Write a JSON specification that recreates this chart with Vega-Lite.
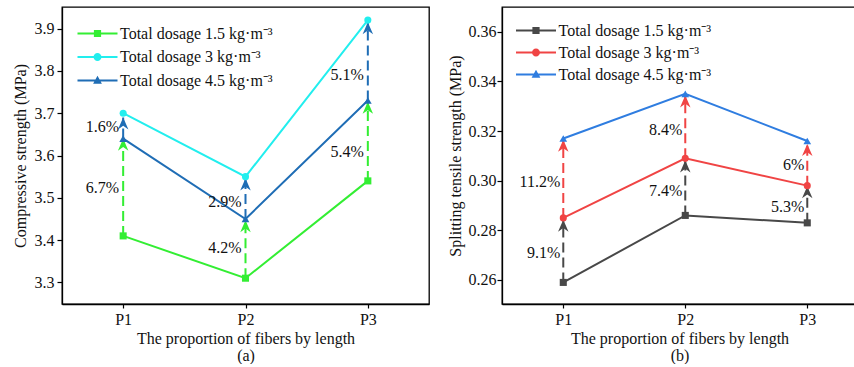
{
  "$schema": "https://vega.github.io/schema/vega-lite/v6.json",
  "padding": {"left": 11, "top": 6, "right": 0, "bottom": 0},
  "background": "white",
  "datasets": {
    "a_pts": [
      {"p": "P1", "s": "Total dosage 1.5 kg·m⁻³", "v": 3.41},
      {"p": "P2", "s": "Total dosage 1.5 kg·m⁻³", "v": 3.31},
      {"p": "P3", "s": "Total dosage 1.5 kg·m⁻³", "v": 3.54},
      {"p": "P1", "s": "Total dosage 3 kg·m⁻³", "v": 3.70},
      {"p": "P2", "s": "Total dosage 3 kg·m⁻³", "v": 3.55},
      {"p": "P3", "s": "Total dosage 3 kg·m⁻³", "v": 3.92},
      {"p": "P1", "s": "Total dosage 4.5 kg·m⁻³", "v": 3.64},
      {"p": "P2", "s": "Total dosage 4.5 kg·m⁻³", "v": 3.45},
      {"p": "P3", "s": "Total dosage 4.5 kg·m⁻³", "v": 3.73}
    ],
    "a_arr": [
      {"p": "P1", "s": "Total dosage 1.5 kg·m⁻³", "from": 3.41, "to": 3.64, "label": "6.7%", "ly": 3.523},
      {"p": "P1", "s": "Total dosage 4.5 kg·m⁻³", "from": 3.64, "to": 3.69, "label": "1.6%", "ly": 3.667},
      {"p": "P2", "s": "Total dosage 1.5 kg·m⁻³", "from": 3.31, "to": 3.447, "label": "4.2%", "ly": 3.381},
      {"p": "P2", "s": "Total dosage 4.5 kg·m⁻³", "from": 3.45, "to": 3.546, "label": "2.9%", "ly": 3.49},
      {"p": "P3", "s": "Total dosage 1.5 kg·m⁻³", "from": 3.54, "to": 3.727, "label": "5.4%", "ly": 3.608},
      {"p": "P3", "s": "Total dosage 4.5 kg·m⁻³", "from": 3.73, "to": 3.915, "label": "5.1%", "ly": 3.79}
    ],
    "b_pts": [
      {"p": "P1", "s": "Total dosage 1.5 kg·m⁻³", "v": 0.259},
      {"p": "P2", "s": "Total dosage 1.5 kg·m⁻³", "v": 0.286},
      {"p": "P3", "s": "Total dosage 1.5 kg·m⁻³", "v": 0.283},
      {"p": "P1", "s": "Total dosage 3 kg·m⁻³", "v": 0.285},
      {"p": "P2", "s": "Total dosage 3 kg·m⁻³", "v": 0.309},
      {"p": "P3", "s": "Total dosage 3 kg·m⁻³", "v": 0.298},
      {"p": "P1", "s": "Total dosage 4.5 kg·m⁻³", "v": 0.317},
      {"p": "P2", "s": "Total dosage 4.5 kg·m⁻³", "v": 0.335},
      {"p": "P3", "s": "Total dosage 4.5 kg·m⁻³", "v": 0.316}
    ],
    "b_arr": [
      {"p": "P1", "s": "Total dosage 1.5 kg·m⁻³", "from": 0.259, "to": 0.2843, "label": "9.1%", "ly": 0.2707},
      {"p": "P1", "s": "Total dosage 3 kg·m⁻³", "from": 0.285, "to": 0.3165, "label": "11.2%", "ly": 0.2995},
      {"p": "P2", "s": "Total dosage 1.5 kg·m⁻³", "from": 0.286, "to": 0.3082, "label": "7.4%", "ly": 0.296},
      {"p": "P2", "s": "Total dosage 3 kg·m⁻³", "from": 0.309, "to": 0.3344, "label": "8.4%", "ly": 0.3203},
      {"p": "P3", "s": "Total dosage 1.5 kg·m⁻³", "from": 0.283, "to": 0.2978, "label": "5.3%", "ly": 0.2893},
      {"p": "P3", "s": "Total dosage 3 kg·m⁻³", "from": 0.298, "to": 0.3148, "label": "6%", "ly": 0.3062}
    ]
  },
  "hconcat": [
    {
      "width": 367,
      "height": 297,
      "encoding": {
        "x": {"field": "p", "type": "nominal", "scale": {"type": "point", "padding": 0.5},
          "axis": {"title": ["The proportion of fibers by length", "(a)"], "labelAngle": 0, "tickSize": 4, "labelPadding": 3, "titlePadding": 3, "titleLineHeight": 17}}
      },
      "layer": [
        {
          "data": {"name": "a_pts"},
          "mark": {"type": "line", "strokeWidth": 2},
          "encoding": {
            "y": {"field": "v", "type": "quantitative", "scale": {"domain": [3.249, 3.951], "nice": false, "zero": false},
              "axis": {"title": "Compressive strength (MPa)", "values": [3.3, 3.35, 3.4, 3.45, 3.5, 3.55, 3.6, 3.65, 3.7, 3.75, 3.8, 3.85, 3.9],
                "labelExpr": "abs(datum.value*10-round(datum.value*10))<0.001 ? format(datum.value,'.1f') : ''",
                "tickSize": {"condition": {"test": "abs(datum.value*10-round(datum.value*10))<0.001", "value": 5}, "value": 3},
                "labelPadding": 3, "titlePadding": 6}},
            "color": {"field": "s", "type": "nominal",
              "scale": {"domain": ["Total dosage 1.5 kg·m⁻³", "Total dosage 3 kg·m⁻³", "Total dosage 4.5 kg·m⁻³"], "range": ["#33ee33", "#22eeee", "#1f6db5"]}}
          }
        },
        {
          "data": {"name": "a_pts"},
          "mark": {"type": "point", "filled": true, "opacity": 0},
          "encoding": {
            "y": {"field": "v", "type": "quantitative"},
            "color": {"field": "s", "type": "nominal",
              "legend": {"title": null, "orient": "none", "legendX": 27.5, "legendY": 18.5, "padding": 0,
                "labelFontSize": 16, "labelColor": "#111", "labelFont": "Liberation Serif", "symbolSize": 64, "symbolStrokeWidth": 0, "symbolOpacity": 1, "labelOffset": 14.5, "rowPadding": 7.5}},
            "shape": {"field": "s", "type": "nominal",
              "scale": {"domain": ["Total dosage 1.5 kg·m⁻³", "Total dosage 3 kg·m⁻³", "Total dosage 4.5 kg·m⁻³"],
                "range": ["M-5,-0.25H5V0.25H-5Z M-0.9,-0.9H0.9V0.9H-0.9Z", "M-5,-0.25H5V0.25H-5Z M-1,0A1,1 0 1,1 1,0A1,1 0 1,1 -1,0Z", "M-5,-0.25H5V0.25H-5Z M0,-1.2L1.1,0.8H-1.1Z"]},
              "legend": {"title": null, "orient": "none", "legendX": 27.5, "legendY": 18.5, "padding": 0,
                "labelFontSize": 16, "labelColor": "#111", "labelFont": "Liberation Serif", "symbolSize": 64, "symbolStrokeWidth": 0, "symbolOpacity": 1, "labelOffset": 14.5, "rowPadding": 7.5}}
          }
        },
        {
          "data": {"name": "a_arr"},
          "mark": {"type": "rule", "strokeWidth": 2, "strokeDash": [10, 5]},
          "encoding": {
            "y": {"field": "from", "type": "quantitative"},
            "y2": {"field": "to"},
            "color": {"field": "s", "type": "nominal"}
          }
        },
        {
          "data": {"name": "a_arr"},
          "mark": {"type": "point", "filled": true, "opacity": 1, "shape": "M0,0L1,2.3L0,1.6L-1,2.3Z", "size": 110},
          "encoding": {
            "y": {"field": "to", "type": "quantitative"},
            "color": {"field": "s", "type": "nominal"}
          }
        },
        {
          "data": {"name": "a_pts"},
          "transform": [{"filter": {"field": "s", "equal": "Total dosage 1.5 kg·m⁻³"}}],
          "mark": {"type": "point", "filled": true, "opacity": 1, "size": 50, "shape": "square"},
          "encoding": {"y": {"field": "v", "type": "quantitative"}, "color": {"field": "s", "type": "nominal"}}
        },
        {
          "data": {"name": "a_pts"},
          "transform": [{"filter": {"field": "s", "equal": "Total dosage 3 kg·m⁻³"}}],
          "mark": {"type": "point", "filled": true, "opacity": 1, "size": 50, "shape": "circle"},
          "encoding": {"y": {"field": "v", "type": "quantitative"}, "color": {"field": "s", "type": "nominal"}}
        },
        {
          "data": {"name": "a_pts"},
          "transform": [{"filter": {"field": "s", "equal": "Total dosage 4.5 kg·m⁻³"}}],
          "mark": {"type": "point", "filled": true, "opacity": 1, "size": 60, "shape": "triangle-up"},
          "encoding": {"y": {"field": "v", "type": "quantitative"}, "color": {"field": "s", "type": "nominal"}}
        },
        {
          "data": {"name": "a_arr"},
          "mark": {"type": "text", "align": "right", "baseline": "middle", "dx": -4, "fontSize": 16, "font": "Liberation Serif", "color": "#111"},
          "encoding": {
            "y": {"field": "ly", "type": "quantitative"},
            "text": {"field": "label"}
          }
        }
      ]
    },
    {
      "width": 355,
      "height": 297,
      "encoding": {
        "x": {"field": "p", "type": "nominal", "scale": {"type": "point", "padding": 0.455, "align": 0.552},
          "axis": {"title": ["The proportion of fibers by length", "(b)"], "labelAngle": 0, "tickSize": 4, "labelPadding": 3, "titlePadding": 3, "titleLineHeight": 17}}
      },
      "layer": [
        {
          "data": {"name": "b_pts"},
          "mark": {"type": "line", "strokeWidth": 2},
          "encoding": {
            "y": {"field": "v", "type": "quantitative", "scale": {"domain": [0.2503, 0.37], "nice": false, "zero": false},
              "axis": {"title": "Splitting tensile strength (MPa)", "values": [0.26, 0.27, 0.28, 0.29, 0.30, 0.31, 0.32, 0.33, 0.34, 0.35, 0.36],
                "labelExpr": "abs(datum.value*50-round(datum.value*50))<0.001 ? format(datum.value,'.2f') : ''",
                "tickSize": {"condition": {"test": "abs(datum.value*50-round(datum.value*50))<0.001", "value": 5}, "value": 3},
                "labelPadding": 1, "titlePadding": 5}},
            "color": {"field": "s", "type": "nominal",
              "scale": {"domain": ["Total dosage 1.5 kg·m⁻³", "Total dosage 3 kg·m⁻³", "Total dosage 4.5 kg·m⁻³"], "range": ["#484848", "#f04444", "#2f7de0"]}}
          }
        },
        {
          "data": {"name": "b_pts"},
          "mark": {"type": "point", "filled": true, "opacity": 0},
          "encoding": {
            "y": {"field": "v", "type": "quantitative"},
            "color": {"field": "s", "type": "nominal",
              "legend": {"title": null, "orient": "none", "legendX": 26, "legendY": 15.5, "padding": 0,
                "labelFontSize": 16, "labelColor": "#111", "labelFont": "Liberation Serif", "symbolSize": 64, "symbolStrokeWidth": 0, "symbolOpacity": 1, "labelOffset": 14.5, "rowPadding": 6}},
            "shape": {"field": "s", "type": "nominal",
              "scale": {"domain": ["Total dosage 1.5 kg·m⁻³", "Total dosage 3 kg·m⁻³", "Total dosage 4.5 kg·m⁻³"],
                "range": ["M-5,-0.25H5V0.25H-5Z M-0.9,-0.9H0.9V0.9H-0.9Z", "M-5,-0.25H5V0.25H-5Z M-1,0A1,1 0 1,1 1,0A1,1 0 1,1 -1,0Z", "M-5,-0.25H5V0.25H-5Z M0,-1.2L1.1,0.8H-1.1Z"]},
              "legend": {"title": null, "orient": "none", "legendX": 26, "legendY": 15.5, "padding": 0,
                "labelFontSize": 16, "labelColor": "#111", "labelFont": "Liberation Serif", "symbolSize": 64, "symbolStrokeWidth": 0, "symbolOpacity": 1, "labelOffset": 14.5, "rowPadding": 6}}
          }
        },
        {
          "data": {"name": "b_arr"},
          "mark": {"type": "rule", "strokeWidth": 2, "strokeDash": [10, 5]},
          "encoding": {
            "y": {"field": "from", "type": "quantitative"},
            "y2": {"field": "to"},
            "color": {"field": "s", "type": "nominal"}
          }
        },
        {
          "data": {"name": "b_arr"},
          "mark": {"type": "point", "filled": true, "opacity": 1, "shape": "M0,0L1,2.3L0,1.6L-1,2.3Z", "size": 110},
          "encoding": {
            "y": {"field": "to", "type": "quantitative"},
            "color": {"field": "s", "type": "nominal"}
          }
        },
        {
          "data": {"name": "b_pts"},
          "transform": [{"filter": {"field": "s", "equal": "Total dosage 1.5 kg·m⁻³"}}],
          "mark": {"type": "point", "filled": true, "opacity": 1, "size": 50, "shape": "square"},
          "encoding": {"y": {"field": "v", "type": "quantitative"}, "color": {"field": "s", "type": "nominal"}}
        },
        {
          "data": {"name": "b_pts"},
          "transform": [{"filter": {"field": "s", "equal": "Total dosage 3 kg·m⁻³"}}],
          "mark": {"type": "point", "filled": true, "opacity": 1, "size": 50, "shape": "circle"},
          "encoding": {"y": {"field": "v", "type": "quantitative"}, "color": {"field": "s", "type": "nominal"}}
        },
        {
          "data": {"name": "b_pts"},
          "transform": [{"filter": {"field": "s", "equal": "Total dosage 4.5 kg·m⁻³"}}],
          "mark": {"type": "point", "filled": true, "opacity": 1, "size": 60, "shape": "triangle-up"},
          "encoding": {"y": {"field": "v", "type": "quantitative"}, "color": {"field": "s", "type": "nominal"}}
        },
        {
          "data": {"name": "b_arr"},
          "mark": {"type": "text", "align": "right", "baseline": "middle", "dx": -3, "fontSize": 16, "font": "Liberation Serif", "color": "#111"},
          "encoding": {
            "y": {"field": "ly", "type": "quantitative"},
            "text": {"field": "label"}
          }
        }
      ]
    }
  ],
  "resolve": {"scale": {"color": "independent", "shape": "independent", "y": "independent", "x": "independent"}, "legend": {"color": "independent", "shape": "independent"}},
  "config": {
    "font": "Liberation Serif",
    "view": {"stroke": "#000", "strokeWidth": 1.3},
    "concat": {"spacing": 16},
    "text": {"font": "Liberation Serif"},
    "axis": {"labelFontSize": 16, "titleFontSize": 16, "titleFontWeight": "normal", "labelColor": "#111", "titleColor": "#111",
      "domainColor": "#000", "tickColor": "#000", "grid": false, "domainWidth": 1.3, "tickWidth": 1.2, "labelFont": "Liberation Serif", "titleFont": "Liberation Serif"},
    "legend": {"labelFont": "Liberation Serif"}
  }
}
